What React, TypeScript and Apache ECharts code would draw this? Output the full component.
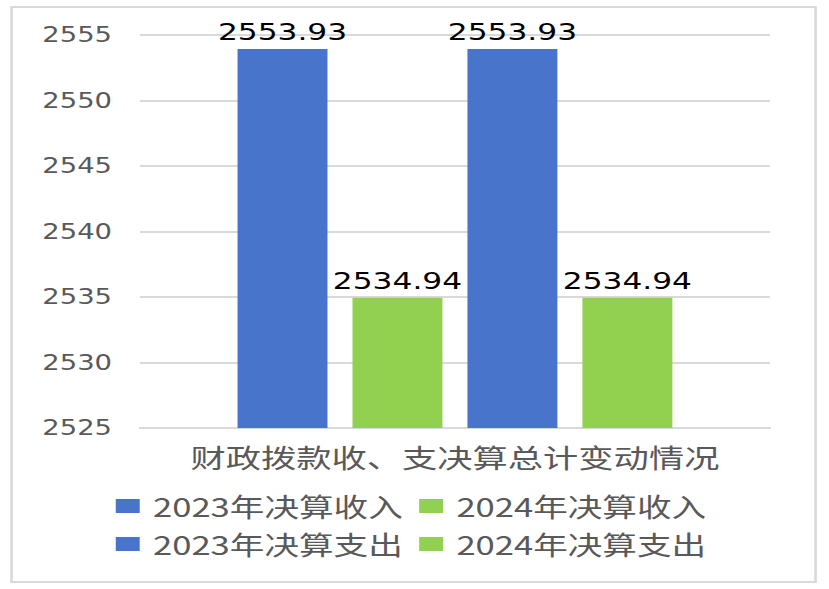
import React, { useEffect, useRef } from "react";
import * as echarts from "echarts";

const categories = ["财政拨款收、支决算总计变动情况"];
const seriesNames = ["2023年决算收入", "2024年决算收入", "2023年决算支出", "2024年决算支出"];
const income2023 = [2553.93];
const income2024 = [2534.94];
const expense2023 = [2553.93];
const expense2024 = [2534.94];
const yMin = 2525;
const yMax = 2555;
const yStep = 5;

const BLUE = "#4874CB";
const GREEN = "#92D050";
const W = 623;
const H = 589;
const SX = 829 / W;

export default function App() {
  const ref = useRef<HTMLDivElement>(null);
  useEffect(() => {
    if (!ref.current) return;
    const chart = echarts.init(ref.current, undefined, { renderer: "svg" });
    const seriesData = [income2023, income2024, expense2023, expense2024];
    const colors = [BLUE, GREEN, BLUE, GREEN];
    const legendPos = [
      { left: 87, top: 493 },
      { left: 315, top: 493 },
      { left: 87, top: 531 },
      { left: 315, top: 531 },
    ];
    chart.setOption({
      animation: false,
      backgroundColor: "#ffffff",
      graphic: [
        {
          type: "rect",
          shape: { x: 8.7, y: 7, width: 604.2, height: 575 },
          style: { fill: "none", stroke: "#d9d9d9", lineWidth: 2 },
          silent: true,
        },
      ],
      grid: { left: 105.2, right: 44.4, top: 35, bottom: 161, containLabel: false },
      legend: seriesNames.map((n, i) => ({
        data: [n],
        left: legendPos[i].left,
        top: legendPos[i].top,
        padding: 0,
        icon: "rect",
        itemWidth: 18,
        itemHeight: 14,
        selectedMode: false,
        textStyle: {
          fontSize: 26,
          color: "#595959",
          fontFamily: "'Noto Sans CJK SC', sans-serif",
          padding: [0, 0, 0, 5],
        },
      })),
      xAxis: {
        type: "category",
        data: categories,
        axisTick: { show: false },
        axisLine: { lineStyle: { color: "#d9d9d9", width: 2 } },
        axisLabel: {
          fontSize: 26.5,
          margin: 15,
          color: "#595959",
          fontFamily: "'Noto Sans CJK SC', sans-serif",
        },
      },
      yAxis: {
        type: "value",
        min: yMin,
        max: yMax,
        interval: yStep,
        axisLine: { show: false },
        axisTick: { show: false },
        splitLine: { lineStyle: { color: "#d9d9d9", width: 2 } },
        axisLabel: {
          fontSize: 20.6,
          margin: 21,
          color: "#595959",
          fontFamily: "'DejaVu Sans', sans-serif",
          formatter: (v: number) => String(v),
        },
      },
      series: seriesNames.map((n, i) => ({
        name: n,
        type: "bar",
        data: seriesData[i],
        barWidth: 67.6,
        barGap: "27.8%",
        itemStyle: { color: colors[i] },
        label: {
          show: true,
          position: "top",
          distance: 5,
          fontSize: 23.5,
          color: "#000000",
          fontFamily: "'DejaVu Sans', sans-serif",
          formatter: (p: any) => Number(p.value).toFixed(2),
        },
      })),
    });
    return () => chart.dispose();
  }, []);
  return (
    <div
      style={{
        position: "absolute",
        left: 0,
        top: 0,
        width: W,
        height: H,
        transform: `scaleX(${SX})`,
        transformOrigin: "0 0",
        background: "#fff",
      }}
    >
      <div ref={ref} style={{ width: W, height: H }} />
    </div>
  );
}
